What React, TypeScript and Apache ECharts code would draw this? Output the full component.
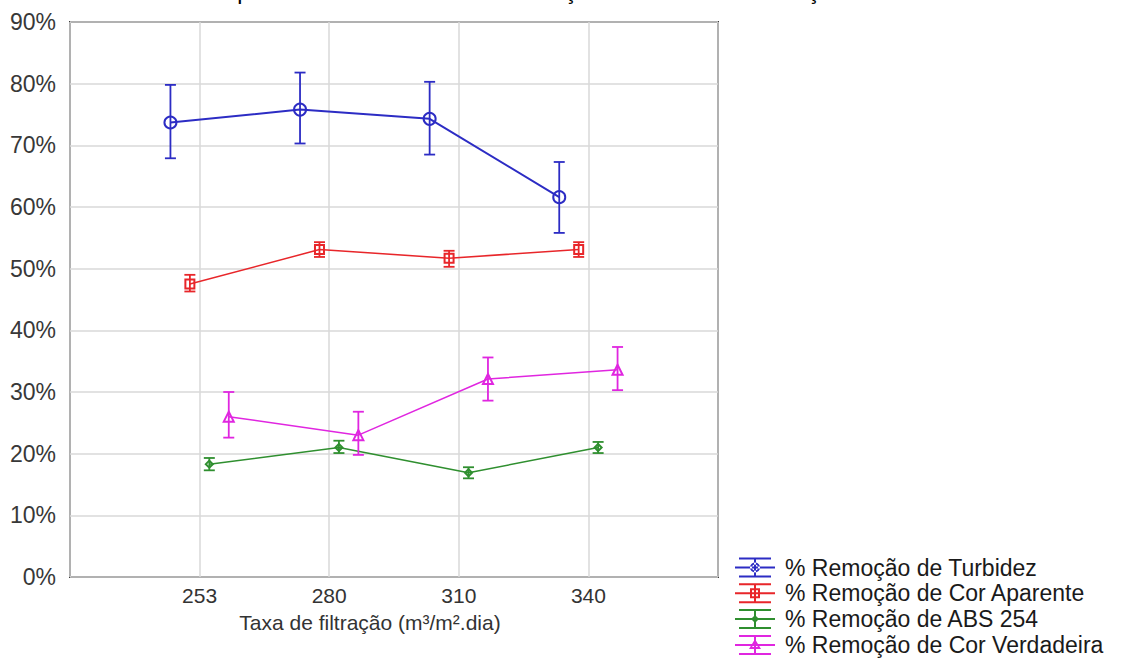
import React, { useEffect, useRef } from 'react';
import * as echarts from 'echarts';

const categories = ['253', '280', '310', '340'];
const yTicks = [0, 10, 20, 30, 40, 50, 60, 70, 80, 90];
const seriesNames = [
  '% Remoção de Turbidez',
  '% Remoção de Cor Aparente',
  '% Remoção de ABS 254',
  '% Remoção de Cor Verdadeira',
];
const turbidez = [73.7, 75.8, 74.3, 61.6];
const turbidezLow = [67.9, 70.3, 68.5, 55.8];
const turbidezHigh = [79.8, 81.8, 80.3, 67.3];
const corAparente = [47.5, 53.1, 51.7, 53.1];
const corAparenteLow = [46.3, 51.9, 50.3, 51.9];
const corAparenteHigh = [49.0, 54.3, 52.9, 54.3];
const abs254 = [18.3, 21.0, 16.9, 21.0];
const abs254Low = [17.3, 20.1, 16.0, 20.1];
const abs254High = [19.3, 22.1, 17.8, 21.9];
const corVerdadeira = [26.0, 23.0, 32.1, 33.6];
const corVerdadeiraLow = [22.6, 19.8, 28.6, 30.3];
const corVerdadeiraHigh = [30.0, 26.8, 35.6, 37.3];

const titleText =
  'e ABS 254 para as diferentes taxas de filtração em termos de remoção média do afluente';

const colors = ['#2c2cc4', '#e8262a', '#2f8f2f', '#e026e0'];
const dodge = [-0.225, -0.075, 0.075, 0.225];
const symbols = ['circle', 'rect', 'diamond', 'triangle'];
const symbolSizes = [12, 9, 7, 10];
const lineWidths = [2, 1.5, 1.5, 1.5];

const base = 'M4 0H36V2H4Z M4 18H36V20H4Z M0 9H40V11H0Z M19 0H21V20H19Z';
const icons = [
  'path://' + base + ' M25 10A5 5 0 1 0 15 10A5 5 0 1 0 25 10Z M23 10A3 3 0 1 1 17 10A3 3 0 1 1 23 10Z',
  'path://' + base + ' M15 5H25V15H15Z M17 7V13H23V7Z',
  'path://' + base + ' M20 6L24 10L20 14L16 10Z',
  'path://' + base + ' M20 4L26 14H14Z M20 8L17 12H23Z',
];

export default function App() {
  const ref = useRef<HTMLDivElement>(null);
  useEffect(() => {
    if (!ref.current) return;
    const chart = echarts.init(ref.current, null, { renderer: 'svg' });
    const means = [turbidez, corAparente, abs254, corVerdadeira];
    const lows = [turbidezLow, corAparenteLow, abs254Low, corVerdadeiraLow];
    const highs = [turbidezHigh, corAparenteHigh, abs254High, corVerdadeiraHigh];

    const series: any[] = [];
    seriesNames.forEach((name, s) => {
      series.push({
        name,
        type: 'line',
        xAxisIndex: 0,
        yAxisIndex: 0,
        data: means[s].map((v, i) => [i + 1 + dodge[s], v]),
        symbol: symbols[s],
        symbolSize: symbolSizes[s],
        lineStyle: { color: colors[s], width: lineWidths[s] },
        itemStyle: { color: 'rgba(255,255,255,0)', borderColor: colors[s], borderWidth: 2 },
        z: 3,
      });
    });
    seriesNames.forEach((name, s) => {
      series.push({
        name,
        type: 'custom',
        xAxisIndex: 0,
        yAxisIndex: 0,
        data: means[s].map((_, i) => [i + 1 + dodge[s], lows[s][i], highs[s][i]]),
        encode: { x: 0, y: [1, 2] },
        z: 4,
        renderItem: (params: any, api: any) => {
          const x = api.value(0);
          const pHi = api.coord([x, api.value(2)]);
          const pLo = api.coord([x, api.value(1)]);
          const w = 5.5;
          const st = { stroke: colors[s], lineWidth: 1.8 };
          return {
            type: 'group',
            children: [
              { type: 'line', shape: { x1: pHi[0], y1: pHi[1], x2: pLo[0], y2: pLo[1] }, style: st },
              { type: 'line', shape: { x1: pHi[0] - w, y1: pHi[1], x2: pHi[0] + w, y2: pHi[1] }, style: st },
              { type: 'line', shape: { x1: pLo[0] - w, y1: pLo[1], x2: pLo[0] + w, y2: pLo[1] }, style: st },
            ],
          };
        },
      });
    });

    const font = 'Liberation Sans, Arial, sans-serif';
    chart.setOption({
      animation: false,
      backgroundColor: '#ffffff',
      textStyle: { fontFamily: font },
      graphic: [
        {
          type: 'text',
          x: 578,
          y: -9,
          style: {
            text: titleText,
            fontSize: 23,
            fontFamily: font,
            fill: '#000',
            align: 'center',
            verticalAlign: 'middle',
          },
        },
      ],
      grid: {
        left: 70,
        top: 22,
        right: 403,
        bottom: 85,
        show: true,
        borderColor: '#3c3c3c',
        borderWidth: 2,
        backgroundColor: '#ffffff',
      },
      legend: {
        orient: 'vertical',
        left: 735,
        top: 556,
        height: 140,
        padding: 0,
        itemWidth: 40,
        itemHeight: 20,
        itemGap: 2.8,
        selectedMode: false,
        itemStyle: { borderWidth: 0 },
        textStyle: {
          fontSize: 23,
          lineHeight: 23,
          color: '#1a1a1a',
          fontFamily: font,
          padding: [0, 0, 0, 5],
        },
        data: seriesNames.map((name, s) => ({
          name,
          icon: icons[s],
          itemStyle: { color: colors[s], borderWidth: 0 },
        })),
      },
      xAxis: {
        type: 'value',
        min: 0,
        max: 5,
        interval: 1,
        position: 'bottom',
        name: 'Taxa de filtração (m³/m².dia)',
        nameLocation: 'middle',
        nameGap: 35,
        nameTextStyle: { fontSize: 21, color: '#333', fontFamily: font, padding: [0, 48, 0, 0] },
        axisLine: { show: false },
        axisTick: { show: false },
        axisLabel: {
          fontSize: 21,
          color: '#333',
          margin: 8,
          formatter: (v: number) => (v >= 1 && v <= categories.length ? categories[v - 1] : ''),
        },
        splitLine: { show: true, lineStyle: { color: '#d9d9d9', width: 1.5 } },
      },
      yAxis: {
        type: 'value',
        min: yTicks[0],
        max: yTicks[yTicks.length - 1],
        interval: 10,
        position: 'left',
        axisLine: { show: false },
        axisTick: { show: false },
        axisLabel: {
          fontSize: 23,
          color: '#383838',
          margin: 14,
          formatter: '{value}%',
        },
        splitLine: { show: true, lineStyle: { color: '#d9d9d9', width: 1.5 } },
      },
      series,
    });
    return () => chart.dispose();
  }, []);
  return (
    <div
      ref={ref}
      style={{ position: 'absolute', left: 0, top: 0, width: 1121, height: 662 }}
    />
  );
}
